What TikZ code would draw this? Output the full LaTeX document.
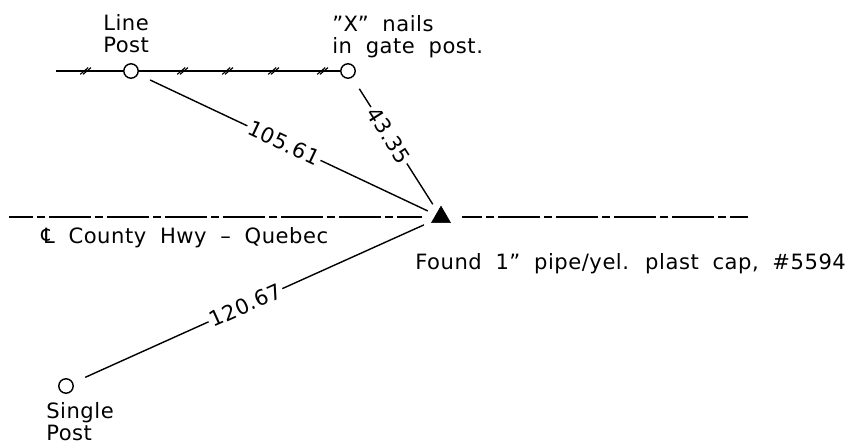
\documentclass[tikz,border=0pt]{standalone}
\usepackage{fontspec}
\setmainfont[WordSpace=1.9, LetterSpace=2.5]{DejaVu Sans}
\usetikzlibrary{shapes.geometric}

\begin{document}
\begin{tikzpicture}[
        post/.style={draw, circle, line width=1pt, fill=white, minimum size=0.36cm, inner sep=0pt},
        found/.style={draw, fill=black, regular polygon, regular polygon sides=3, minimum size=0.55cm, inner sep=0pt},
        note/.style={align=left, inner sep=0pt, font=\fontsize{15}{15.6}\selectfont},
        tie/.style={line width=1pt, shorten <=0.33cm, shorten >=0.22cm},
        dist/.style={sloped, fill=white, inner sep=1.5pt, font=\fontsize{15}{15.6}\selectfont}
    ]
    \useasboundingbox (0, 0) rectangle (21.3, 11.15);

    \coordinate (fenceend) at (1.4, 9.375);
    \coordinate (roadwest) at (0.225, 5.725);
    \coordinate (roadgap) at (10.55, 5.725);
    \coordinate (roadeast) at (11.55, 5.725);
    \coordinate (roadend) at (18.7, 5.725);

    \node[post] (linepost) at (3.275, 9.375) {};
    \node[post] (gatepost) at (8.7, 9.375) {};
    \node[post] (singlepost) at (1.65, 1.5) {};
    \node[found] (pipe) at (11.025, 5.72) {};

    % fence
    \draw[line width=1pt] (fenceend) -- (linepost) -- (gatepost);
    \foreach \x in {2.125, 4.55, 5.675, 6.825, 8.05} {
        \draw[thick] (\x - 0.12, 9.29) -- (\x + 0.08, 9.46);
        \draw[thick] (\x - 0.05, 9.29) -- (\x + 0.15, 9.46);
    }

    % centre line
    \draw[line width=1pt, dash pattern=on 1.05cm off 0.1cm on 0.2cm off 0.1cm, dash phase=0.45cm] (roadwest) -- (roadgap);
    \draw[line width=1pt, dash pattern=on 1.05cm off 0.1cm on 0.2cm off 0.1cm, dash phase=0.55cm] (roadeast) -- (roadend);

    % ties
    \draw[tie] (linepost) -- node[dist, pos=0.49] {105.61} (pipe);
    \draw[tie] (gatepost) -- node[dist, pos=0.43] {43.35} (pipe);
    \draw[tie] (singlepost) -- node[dist, pos=0.48] {120.67} (pipe);

    \node[note, anchor=west] (linelabel) at (2.575, 10.3) {Line\\Post};
    \node[note, anchor=west] (gatelabel) at (8.3, 10.23) {"X" nails\\in gate post.};
    \node[note, anchor=west] (roadlabel) at (1.025, 5.22) {℄ County Hwy -- Quebec};
    \node[note, anchor=west] (pipelabel) at (10.375, 4.55) {Found 1" pipe/yel. plast cap, \#5594};
    \node[note, anchor=west] (singlelabel) at (1.15, 0.6) {Single\\Post};
\end{tikzpicture}
\end{document}
